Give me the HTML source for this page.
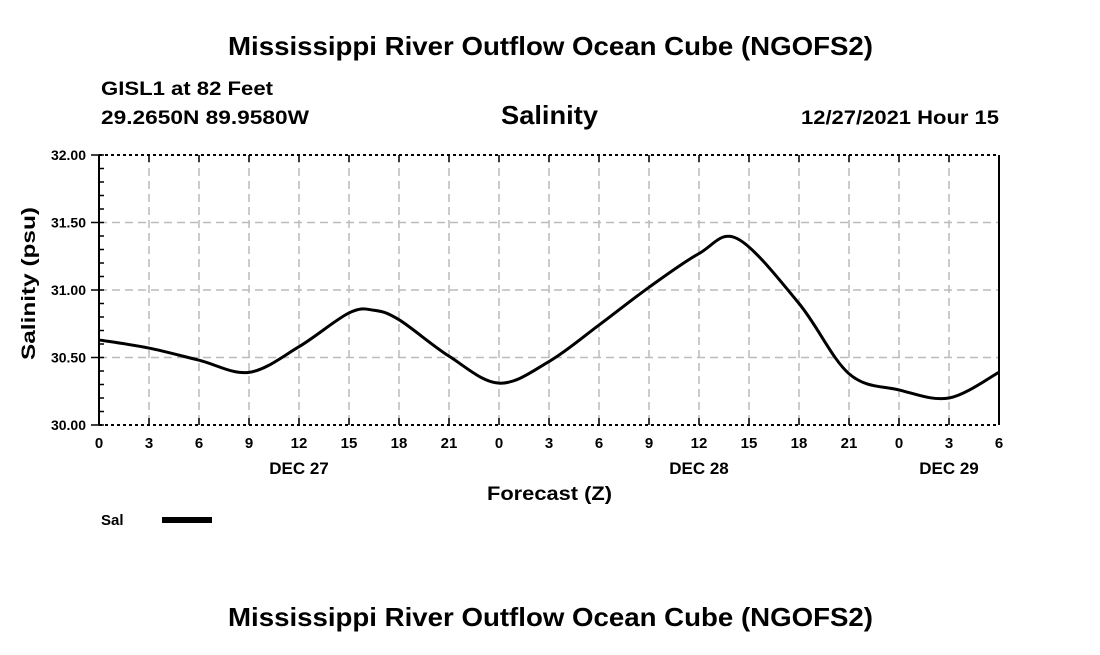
<!DOCTYPE html>
<html><head><meta charset="utf-8"><style>
body{margin:0;background:#fff;font-family:"Liberation Sans",sans-serif;}
svg text{font-family:"Liberation Sans",sans-serif;font-weight:bold;fill:#000;}
</style></head><body>
<svg width="1100" height="650">
<text x="228" y="55" font-size="26" textLength="645" lengthAdjust="spacingAndGlyphs">Mississippi River Outflow Ocean Cube (NGOFS2)</text>
<text x="101" y="95" font-size="19" textLength="172" lengthAdjust="spacingAndGlyphs">GISL1 at 82 Feet</text>
<text x="101" y="124" font-size="19" textLength="208" lengthAdjust="spacingAndGlyphs">29.2650N  89.9580W</text>
<text x="501" y="124" font-size="26" textLength="97" lengthAdjust="spacingAndGlyphs">Salinity</text>
<text x="801" y="124" font-size="19" textLength="198" lengthAdjust="spacingAndGlyphs">12/27/2021 Hour 15</text>
<g id="grid"></g>
<g id="axes"></g>
<path id="line" fill="none" stroke="#000" stroke-width="3"/>
<text x="487" y="500" font-size="19" textLength="125" lengthAdjust="spacingAndGlyphs">Forecast (Z)</text>
<text transform="translate(35,360) rotate(-90)" font-size="19" textLength="153" lengthAdjust="spacingAndGlyphs">Salinity (psu)</text>
<text x="101" y="525" font-size="15">Sal</text>
<rect x="162" y="517" width="50" height="6" fill="#000"/>
<text x="228" y="626" font-size="26" textLength="645" lengthAdjust="spacingAndGlyphs">Mississippi River Outflow Ocean Cube (NGOFS2)</text>
</svg>
<script>
const hours=[0,3,6,9,12,15,16.5,18,21,24,27,30,33,36,38.3,42,45,48,51,54];
const salinity=[30.63,30.57,30.48,30.39,30.58,30.83,30.85,30.78,30.51,30.31,30.47,30.74,31.02,31.27,31.38,30.90,30.38,30.26,30.20,30.39];
const xTickLabels=["0","3","6","9","12","15","18","21","0","3","6","9","12","15","18","21","0","3","6"];
const yTicks=[30.00,30.50,31.00,31.50,32.00];
const dayLabels=[{h:12,t:"DEC 27"},{h:36,t:"DEC 28"},{h:51,t:"DEC 29"}];
const NS="http://www.w3.org/2000/svg";
const X0=99,X1=999,Y0=425,Y1=155;
const xs=h=>X0+(h/54)*(X1-X0);
const ys=v=>Y0-(v-30)/2*(Y0-Y1);
function mk(tag,attrs,parent){const e=document.createElementNS(NS,tag);for(const k in attrs)e.setAttribute(k,attrs[k]);parent.appendChild(e);return e;}
const grid=document.getElementById('grid'),axes=document.getElementById('axes');
xTickLabels.forEach((t,i)=>{const x=xs(i*3);
 if(i>0&&i<18){const l=mk('line',{x1:x,x2:x,y1:Y1,y2:Y0,stroke:'#bbb','stroke-width':1.5,'stroke-dasharray':'8,5'},grid);
 
 }
 const tk=mk('line',{x1:x,x2:x,y1:Y0-7,y2:Y0,stroke:'#000','stroke-width':1.5},axes);
 
 
 const tk2=mk('line',{x1:x,x2:x,y1:Y1,y2:Y1+7,stroke:'#000','stroke-width':1.5},axes);
 
 
 const tx=mk('text',{x:x,y:Y0+23,'font-size':15,'text-anchor':'middle'},axes);tx.textContent=t;
 
 
});
dayLabels.forEach(d=>{const tx=mk('text',{x:xs(d.h),y:Y0+49,'font-size':17,'text-anchor':'middle'},axes);tx.textContent=d.t;
 
 });
for(let v=30;v<=32.0001;v+=0.1){const y=ys(v);
 const tk=mk('line',{x1:X0,x2:X0+5,y1:y,y2:y,stroke:'#000','stroke-width':1.5},axes);
 
 }
yTicks.forEach(v=>{const y=ys(v);
 if(v>30&&v<32){const l=mk('line',{x1:X0,x2:X1,y1:y,y2:y,stroke:'#bbb','stroke-width':1.5,'stroke-dasharray':'8,5'},grid);
 
 }
 const tx=mk('text',{x:X0-13,y:y+5,'font-size':14,'text-anchor':'end'},axes);tx.textContent=v.toFixed(2);
 
 
 const tk=mk('line',{x1:X0-8,x2:X0,y1:y,y2:y,stroke:'#000','stroke-width':1.5},axes);
 
 });
[[X0,Y1,X1,Y1,'3,3','top-border'],[X0,Y0,X1,Y0,'3,3','bottom-border'],[X0,Y1,X0,Y0,null,'left-axis'],[X1,Y1,X1,Y0,null,'right-axis']].forEach(b=>{
 const a={x1:b[0],y1:b[1],x2:b[2],y2:b[3],stroke:'#000','stroke-width':2};if(b[4])a['stroke-dasharray']=b[4];
 const l=mk('line',a,axes);
 
 });
const P=hours.map((h,i)=>[xs(h),ys(salinity[i])]);
let d='M'+P[0][0]+','+P[0][1];
for(let i=0;i<P.length-1;i++){const p0=P[Math.max(0,i-1)],p1=P[i],p2=P[i+1],p3=P[Math.min(P.length-1,i+2)];
 const c1=[p1[0]+(p2[0]-p0[0])/6,p1[1]+(p2[1]-p0[1])/6],c2=[p2[0]-(p3[0]-p1[0])/6,p2[1]-(p3[1]-p1[1])/6];
 d+=' C'+c1+' '+c2+' '+p2;}
document.getElementById('line').setAttribute('d',d);
</script>
</body></html>
